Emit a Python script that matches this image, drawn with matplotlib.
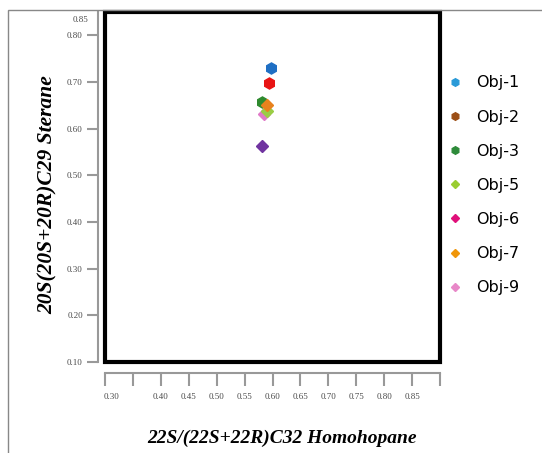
import matplotlib
matplotlib.use('Agg')
import matplotlib.pyplot as plt
import matplotlib.transforms as mtransforms
from matplotlib.lines import Line2D
from matplotlib.patches import Rectangle

# data
names = ['Obj-1', 'Obj-2', 'Obj-3', 'Obj-5', 'Obj-6', 'Obj-7', 'Obj-9']
homohopane = [0.597, 0.593, 0.581, 0.590, 0.582, 0.591, 0.584]
sterane = [0.730, 0.697, 0.657, 0.637, 0.562, 0.650, 0.632]
markers = ['h', 'h', 'h', 'D', 'D', 'D', 'D']
point_colors = ['#1f6fc4', '#e81414', '#2e8a2e', '#9acd45', '#7034a0', '#e8821e', '#e07ac8']
legend_colors = ['#2a9ad8', '#9c4f16', '#2e8b3a', '#9acd32', '#e0107a', '#f0960a', '#e888c8']
draw_order = [0, 1, 2, 6, 3, 5, 4]

xticks = [0.30, 0.35, 0.40, 0.45, 0.50, 0.55, 0.60, 0.65, 0.70, 0.75, 0.80, 0.85, 0.90]
xticklabels = ['0.30', '', '0.40', '0.45', '0.50', '0.55', '0.60', '0.65', '0.70', '0.75', '0.80', '0.85', '']
yticks = [0.10, 0.20, 0.30, 0.40, 0.50, 0.60, 0.70, 0.80]
yticklabels = ['0.10', '0.20', '0.30', '0.40', '0.50', '0.60', '0.70', '0.80']

W, H = 542, 453
fig = plt.figure(figsize=(W / 100, H / 100), dpi=100)

# outer frame line (left and top only visible)
fig.patches.append(Rectangle((8 / W, -0.1), 1.2, (H - 10) / H + 0.1, transform=fig.transFigure,
                             fill=False, edgecolor='#888888', lw=1))

ax = fig.add_axes([105 / W, (H - 362) / H, 335 / W, 350 / H])
ax.set_xlim(0.30, 0.90)
ax.set_ylim(0.10, 0.85)

for i in draw_order:
    ax.plot(homohopane[i], sterane[i], marker=markers[i], color=point_colors[i],
            markersize=8 if markers[i] == 'h' else 6, linestyle='none')

# gray axis lines offset outside, thick black box inside
for side in ['top', 'right']:
    ax.spines[side].set_visible(False)
ax.spines['left'].set_position(('outward', 5))
ax.spines['bottom'].set_position(('outward', 8))
ax.spines['left'].set_color('#999999')
ax.spines['bottom'].set_color('#999999')
ax.spines['left'].set_linewidth(1.5)
ax.spines['bottom'].set_linewidth(1.5)
ax.add_patch(Rectangle((0, 0), 1, 1, transform=ax.transAxes, fill=False,
                       edgecolor='black', lw=3, clip_on=False))

ax.set_xticks(xticks)
ax.set_xticklabels(xticklabels)
ax.set_yticks(yticks)
ax.set_yticklabels(yticklabels)
ax.tick_params(axis='x', length=9, width=1.5, color='#999999', pad=5,
               labelsize=6.5, labelcolor='#4a4a4a')
ax.tick_params(axis='y', length=8, width=1.5, color='#999999', pad=3,
               labelsize=6.5, labelcolor='#4a4a4a')
for lab in ax.get_xticklabels() + ax.get_yticklabels():
    lab.set_family('Liberation Serif')
# first x label sits a little right of its tick in the reference
first = ax.get_xticklabels()[0]
first.set_transform(first.get_transform() + mtransforms.ScaledTranslation(7 / 100, 0, fig.dpi_scale_trans))
ax.text(-0.049, 0.977, '0.85', transform=ax.transAxes, ha='right', va='center',
        fontsize=6.5, color='#4a4a4a', family='Liberation Serif')

fig.text(282 / W, 1 - 438 / H, '22S/(22S+22R)C32 Homohopane', family='Liberation Serif',
         style='italic', weight='bold', fontsize=14, ha='center', va='center')
fig.text(48 / W, 1 - 195 / H, '20S(20S+20R)C29 Sterane', family='Liberation Serif',
         style='italic', weight='bold', fontsize=15.5, ha='center', va='center', rotation=90)

handles = [Line2D([], [], marker=markers[i], color=legend_colors[i], linestyle='none',
                  markersize=5.5 if markers[i] == 'h' else 4.5) for i in range(len(names))]
fig.legend(handles, names, loc='upper left', bbox_to_anchor=(444 / W, (H - 69) / H),
           frameon=False, fontsize=11.5, labelspacing=1.2, handletextpad=1.0,
           handlelength=0.6, borderaxespad=0)

plt.savefig('out.png', dpi=100)
